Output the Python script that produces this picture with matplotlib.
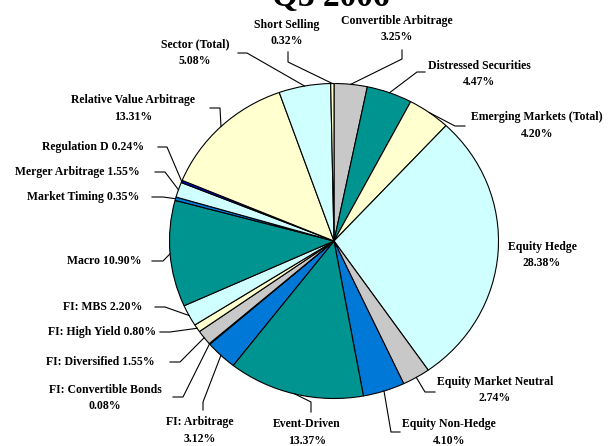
import numpy as np
import matplotlib.pyplot as plt

# strategy weights, Q3 2006 (clockwise from 12 o'clock)
names = ['Convertible Arbitrage', 'Distressed Securities', 'Emerging Markets (Total)',
         'Equity Hedge', 'Equity Market Neutral', 'Equity Non-Hedge', 'Event-Driven',
         'FI: Arbitrage', 'FI: Convertible Bonds', 'FI: Diversified', 'FI: High Yield',
         'FI: MBS', 'Macro', 'Market Timing', 'Merger Arbitrage', 'Regulation D',
         'Relative Value Arbitrage', 'Sector (Total)', 'Short Selling']
values = [3.25, 4.47, 4.20, 28.38, 2.74, 4.10, 13.37, 3.12, 0.08, 1.55, 0.80,
          2.20, 10.90, 0.35, 1.55, 0.24, 13.31, 5.08, 0.32]

gray, teal, ylw, cyan, blue, dblue = '#C8C8C8', '#009490', '#FFFFD0', '#D0FFFF', '#0078D7', '#0000D0'
colors = [gray, teal, ylw, cyan, gray, blue, teal, blue, teal, gray, ylw,
          cyan, teal, blue, cyan, dblue, ylw, cyan, ylw]

# label layout in image pixels: text centre, leader start, leader elbow
one_line = {9, 10, 11, 12, 13, 14, 15}
text_pos = [(397, 29), (479, 74), (537, 125.5), (542, 255), (495, 390), (449, 432.5),
            (307, 432.5), (200, 430.5), (105, 398), (100, 362), (102, 332), (103, 307),
            (104, 261), (83, 197), (77, 172), (93, 147), (133, 108.5), (195, 53), (287, 33)]
lead_start = [(402, 50), (425, 72), (465, 126), None, (435, 392), (400, 432),
              (311, 412), (203, 410), (173, 397), (170, 362), (160, 332), (155, 307),
              (152, 261), (152, 197), (155, 172), (158, 147), (210, 108), (238, 53), (288, 52)]
lead_elbow = [(402, 59), (417, 72), (455, 126), None, (425, 392), (391, 432),
              (311, 402), (203, 402), (183, 397), (180, 362), (170, 332), (165, 307),
              (163, 261), (163, 197), (165, 172), (167, 147), (220, 108), (247, 53), (288, 62)]

W, H = 616, 446
cx, cy, rx, ry = 334, 241, 164.5, 157.5


def px(x, y):
    return (x - cx) / rx, (cy - y) / ry


fig = plt.figure(figsize=(W / 100, H / 100), dpi=100)
ax = fig.add_axes([0, 0, 1, 1])

ax.pie(values, colors=colors, startangle=90, counterclock=False, radius=1,
       wedgeprops=dict(edgecolor='black', linewidth=0.8))
ax.set_aspect('auto')
ax.set_xlim(px(0, 0)[0], px(W, 0)[0])
ax.set_ylim(px(0, H)[1], px(0, 0)[1])
ax.axis('off')

font = dict(family='Liberation Serif', fontweight='bold')
total = sum(values)
cum = np.cumsum([0] + values[:-1])
for i, (name, v) in enumerate(zip(names, values)):
    sep = ' ' if i in one_line else '\n'
    ax.text(*px(*text_pos[i]), f'{name}{sep}{v:.2f}%', ha='center', va='center',
            fontsize=8.5, linespacing=1.5, **font)
    if lead_start[i] is None:
        continue
    th = np.deg2rad(360 * (cum[i] + v / 2) / total)
    p0, p1 = px(*lead_start[i]), px(*lead_elbow[i])
    ax.plot([p0[0], p1[0], np.sin(th)], [p0[1], p1[1], np.cos(th)],
            color='black', lw=0.8)

ax.text(*px(331, 6), 'Q3 2006', ha='center', va='baseline', fontsize=24, **font)

fig.savefig('out.png', dpi=100)
